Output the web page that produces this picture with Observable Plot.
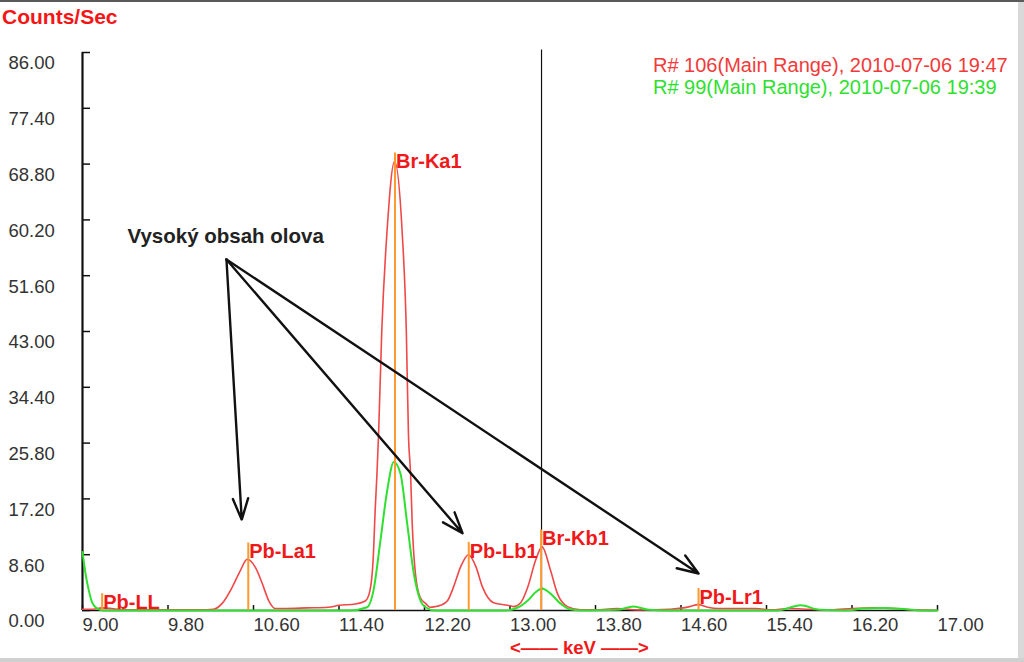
<!DOCTYPE html>
<html><head><meta charset="utf-8">
<script src="https://cdn.jsdelivr.net/npm/d3@7"></script>
<script src="https://cdn.jsdelivr.net/npm/@observablehq/plot@0.6"></script>
<style>
html,body{margin:0;padding:0;background:#fff;}
#wrap{position:relative;width:1024px;height:662px;overflow:hidden;font-family:"Liberation Sans",Arial,sans-serif;background:#fff;}
#wrap svg{position:absolute;left:0;top:0;}
.ov{position:absolute;white-space:nowrap;line-height:1;}
#topbar{position:absolute;left:0;top:0;width:1024px;height:2px;background:#5a5a5a;}
#rightbar{position:absolute;right:0;top:2px;width:6px;height:660px;background:#d9d9d9;}
#bottombar{position:absolute;left:0;bottom:0;width:1024px;height:4px;background:#d0d0d0;}
</style></head><body>
<div id="wrap"></div>
<script>
// ---- data ----
const xTicks = [9.0, 9.8, 10.6, 11.4, 12.2, 13.0, 13.8, 14.6, 15.4, 16.2, 17.0];
const yTicks = [0, 8.6, 17.2, 25.8, 34.4, 43.0, 51.6, 60.2, 68.8, 77.4, 86.0];

const redKeV = [9.00, 9.10, 9.18, 9.40, 9.80, 10.10, 10.226, 10.307, 10.401, 10.478, 10.541, 10.619, 10.681, 10.743, 10.806, 10.90, 11.10, 11.30, 11.40, 11.55, 11.648, 11.69, 11.72, 11.74, 11.755, 11.77, 11.80, 11.85, 11.92, 11.99, 12.03, 12.05, 12.07, 12.085, 12.115, 12.16, 12.21, 12.25, 12.30, 12.35, 12.415, 12.471, 12.54, 12.612, 12.68, 12.743, 12.846, 12.977, 13.033, 13.10, 13.164, 13.239, 13.30, 13.379, 13.444, 13.538, 13.66, 13.80, 14.00, 14.20, 14.50, 14.62, 14.68, 14.76, 14.85, 14.95, 15.30, 15.45, 15.60, 15.80, 16.00, 16.20, 16.40, 16.60, 16.80, 17.00];
const redCps = [0.2, 0.2, 0.4, 0.1, 0.1, 0.1, 0.2, 1.1, 3.6, 6.2, 7.9, 6.6, 4.2, 1.5, 0.3, 0.3, 0.4, 0.5, 0.8, 1.0, 1.5, 3.1, 8.0, 16.0, 21.0, 27.0, 43.0, 58.6, 69.2, 58.6, 43.0, 27.0, 21.0, 13.4, 5.7, 2.0, 1.1, 0.5, 0.6, 0.8, 1.5, 3.6, 6.8, 8.6, 6.8, 3.6, 1.2, 0.8, 0.6, 1.2, 3.5, 7.7, 9.8, 6.2, 2.6, 0.6, 0.1, 0.1, 0.3, 0.1, 0.2, 0.4, 0.6, 0.9, 0.5, 0.3, 0.3, 0.1, 0.3, 0.2, 0.1, 0.3, 0.4, 0.3, 0.1, 0.0];

const greenKeV = [9.00, 9.028, 9.059, 9.091, 9.138, 9.20, 11.50, 11.664, 11.723, 11.788, 11.851, 11.913, 11.975, 12.038, 12.10, 12.163, 12.209, 12.30, 12.95, 13.05, 13.164, 13.239, 13.30, 13.379, 13.47, 13.56, 13.70, 14.00, 14.155, 14.30, 14.45, 15.50, 15.72, 15.90, 16.15, 16.30, 16.50, 16.70, 16.85, 17.00];
const greenCps = [9.0, 5.7, 3.1, 1.2, 0.3, 0.0, 0.0, 0.5, 3.1, 10.8, 18.5, 22.9, 21.1, 13.4, 5.7, 1.5, 0.5, 0.0, 0.0, 0.3, 1.5, 2.8, 3.4, 2.6, 1.1, 0.2, 0.0, 0.1, 0.6, 0.1, 0.0, 0.0, 0.8, 0.1, 0.0, 0.3, 0.4, 0.2, 0.0, 0.0];

const lineNames = ["Pb-LL", "Pb-La1", "Br-Ka1", "Pb-Lb1", "Br-Kb1", "Pb-Lr1"];
const lineKeV = [9.184, 10.551, 11.924, 12.614, 13.291, 14.764];
const lineHeight = [2.6, 10.4, 70.5, 10.5, 12.4, 3.4];

const cursorKeV = 13.295;
const cursorTop = 86.4;

const noteText = "Vysoký obsah olova";
const noteKeV = 10.34;
const noteCps = 57.6;
const arrowFromKeV = [10.347, 10.347, 10.347];
const arrowFromCps = [54.1, 54.1, 54.1];
const arrowToKeV = [10.49, 12.556, 14.764];
const arrowToCps = [14.0, 11.9, 5.7];

const legendTexts = ["R# 106(Main Range), 2010-07-06 19:47", "R# 99(Main Range), 2010-07-06 19:39"];
const legendColors = ["#f23a3a", "#2fe02f"];
const yTitle = "Counts/Sec";
const xTitle = "<—— keV ——>";

// ---- build tables ----
const red = redKeV.map((k, i) => ({keV: k, cps: redCps[i]}));
const green = greenKeV.map((k, i) => ({keV: k, cps: greenCps[i]}));
const markers = lineNames.map((n, i) => ({name: n, keV: lineKeV[i], h: lineHeight[i]}));
const arrows = arrowToKeV.map((k, i) => ({x1: arrowFromKeV[i], y1: arrowFromCps[i], x2: k, y2: arrowToCps[i]}));

const W = 1024, H = 662, mL = 82, mR = 87, mT = 52, mB = 52;
const innerW = W - mL - mR, innerH = H - mT - mB;
const font = "Liberation Sans, Arial, sans-serif";

const chart = Plot.plot({
  width: W, height: H,
  marginLeft: mL, marginRight: mR, marginTop: mT, marginBottom: mB,
  style: {fontFamily: font, background: "transparent", overflow: "visible"},
  x: {domain: [xTicks[0], xTicks[xTicks.length - 1]]},
  y: {domain: [yTicks[0], yTicks[yTicks.length - 1]]},
  marks: [
    Plot.ruleY([yTicks[0]], {stroke: "#111", strokeWidth: 1.5}),
    Plot.ruleX([xTicks[0]], {y1: yTicks[0], y2: yTicks[yTicks.length - 1], stroke: "#111", strokeWidth: 2.2}),
    Plot.tickY(yTicks, {y: d => d, insetRight: innerW - 8, stroke: "#111", strokeWidth: 1.5}),
    Plot.tickX(xTicks, {x: d => d, insetTop: innerH - 5, stroke: "#111", strokeWidth: 1.5}),
    Plot.axisY(yTicks, {tickSize: 0, tickPadding: 0, textAnchor: "start", dx: -74, dy: 11,
      tickFormat: d => d.toFixed(2), fontSize: 18.5, fill: "#333", label: null}),
    Plot.axisX(xTicks, {tickSize: 0, tickPadding: 7, textAnchor: "start",
      tickFormat: d => d.toFixed(2), fontSize: 18.5, fill: "#333", label: null}),
    Plot.line(red, {x: "keV", y: "cps", stroke: "#f04848", strokeWidth: 1.6, curve: "monotone-x"}),
    Plot.line(green, {x: "keV", y: "cps", stroke: "#2fe02f", strokeWidth: 2, curve: "monotone-x"}),
    Plot.ruleX([cursorKeV], {y1: yTicks[0], y2: cursorTop, stroke: "#111", strokeWidth: 1.2}),
    Plot.ruleX(markers, {x: "keV", y1: 0, y2: "h", stroke: "#ff9a30", strokeWidth: 2}),
    Plot.text(markers, {x: "keV", y: "h", text: "name", textAnchor: "start", lineAnchor: "top", dx: 1, dy: 1,
      fill: "#f01818", fontSize: 20, fontWeight: "bold"}),
    Plot.arrow(arrows, {x1: "x1", y1: "y1", x2: "x2", y2: "y2", stroke: "#111", strokeWidth: 2.4, headLength: 14, headAngle: 40}),
    Plot.text([noteText], {x: noteKeV, y: noteCps, text: d => d, textAnchor: "middle", fontSize: 20.5, fontWeight: "bold", fill: "#222"})
  ]
});

const wrap = document.getElementById("wrap");
wrap.appendChild(chart);

function addDiv(text, css, cls) {
  const d = document.createElement("div");
  d.className = cls || "ov";
  d.textContent = text;
  Object.assign(d.style, css);
  wrap.appendChild(d);
  return d;
}
addDiv(yTitle, {left: "2px", top: "6px", fontSize: "21px", fontWeight: "bold", color: "#f51515"});
legendTexts.forEach((t, i) => addDiv(t, {left: "653px", top: (55 + i * 22) + "px", fontSize: "20px", color: legendColors[i]}));
addDiv(xTitle, {left: "510px", top: "639px", fontSize: "18.5px", fontWeight: "bold", color: "#f01818"});
["topbar", "rightbar", "bottombar"].forEach(id => { const d = document.createElement("div"); d.id = id; wrap.appendChild(d); });
</script>
</body></html>
